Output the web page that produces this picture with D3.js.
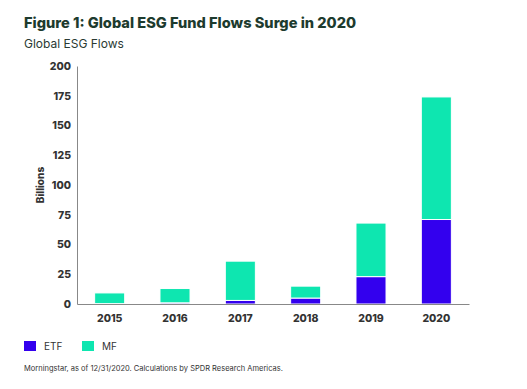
<!DOCTYPE html>
<html>
<head>
<meta charset="utf-8">
<script src="https://cdn.jsdelivr.net/npm/d3@7"></script>
<style>
  body { margin: 0; background: #fff; }
  svg { display: block; font-family: "Inter", "Roboto", sans-serif; }
</style>
</head>
<body>
<div id="chart"></div>
<script>
// Global ESG fund flows, stacked by vehicle

const years = ["2015", "2016", "2017", "2018", "2019", "2020"]
const etfValues = [0.3, 1, 3, 5, 23, 71]
const mfValues = [9, 12, 33, 10, 45, 103]
const yTicks = [0, 25, 50, 75, 100, 125, 150, 175, 200]
const seriesNames = ["ETF", "MF"]

const colors = { ETF: "#3300ee", MF: "#0ee6b0" }
const width = 527
const height = 389

const svg = d3.select("#chart").append("svg").attr("width", width).attr("height", height)

// Title block
svg.append("text")
  .attr("x", 24).attr("y", 28)
  .style("font-size", "14.6px").style("font-weight", 800)
  .style("fill", "#1d3b2e")
  .text("Figure 1: Global ESG Fund Flows Surge in 2020")

svg.append("text")
  .attr("x", 24).attr("y", 48)
  .style("font-size", "12px")
  .style("fill", "#2a3a33")
  .text("Global ESG Flows")

// Scales
const x = d3.scaleBand().domain(years).range([77, 469]).paddingInner(0.54).paddingOuter(0.27)
const y = d3.scaleLinear().domain([0, 200]).range([304, 66])

const table = years.map((yr, i) => ({ year: yr, ETF: etfValues[i], MF: mfValues[i] }))
const stacked = d3.stack().keys(seriesNames)(table)

// Bars
svg.append("g")
  .selectAll("g")
  .data(stacked)
  .enter()
  .append("g")
  .style("fill", (d) => colors[d.key])
  .selectAll("rect")
  .data((d) => d)
  .enter()
  .append("rect")
  .attr("x", (d) => x(d.data.year))
  .attr("width", x.bandwidth())
  .attr("y", (d) => y(d[1]))
  .attr("height", (d) => y(d[0]) - y(d[1]))
  .style("stroke", "#fff")
  .style("stroke-width", 1)

// Axes
const yAxis = svg.append("g")
  .attr("transform", "translate(77,0)")
  .call(d3.axisLeft(y).tickValues(yTicks).tickSize(0).tickPadding(6))
yAxis.select(".domain").attr("stroke", "#888")

const xAxis = svg.append("g")
  .attr("transform", "translate(0,304)")
  .call(d3.axisBottom(x).tickSize(0).tickPadding(11))
xAxis.select(".domain").attr("stroke", "#888")

svg.selectAll(".tick text")
  .style("font-family", "Inter, Roboto, sans-serif")
  .style("font-size", "10.5px")
  .style("font-weight", 800)
  .style("fill", "#333")

svg.append("text")
  .attr("transform", "translate(44,185) rotate(-90)")
  .style("text-anchor", "middle")
  .style("font-size", "10px").style("font-weight", 800)
  .style("fill", "#333")
  .text("Billions")

// Legend
const legend = svg.append("g").attr("transform", "translate(24,341)")
const item = legend.selectAll("g")
  .data(seriesNames)
  .enter()
  .append("g")
  .attr("transform", (d, i) => `translate(${i * 58},0)`)

item.append("rect")
  .attr("width", 12).attr("height", 10)
  .style("fill", (d) => colors[d])

item.append("text")
  .attr("x", 20).attr("y", 9)
  .style("font-size", "10px")
  .style("fill", "#333")
  .text((d) => d)

// Source
svg.append("text")
  .attr("x", 24).attr("y", 371)
  .style("font-size", "7.5px")
  .style("fill", "#333")
  .text("Morningstar, as of 12/31/2020. Calculations by SPDR Research Americas.")
</script>
</body>
</html>
